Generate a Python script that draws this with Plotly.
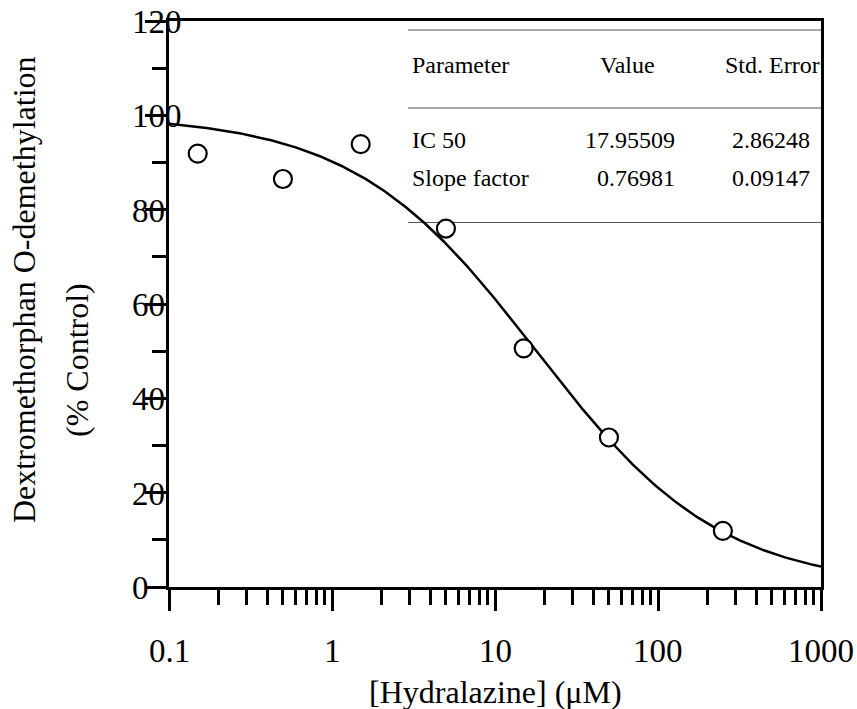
import numpy as np
import plotly.graph_objects as go

# Measured inhibition of dextromethorphan O-demethylation
hydralazine_uM = [0.15, 0.5, 1.5, 5, 15, 50, 250]
activity_pct = [91.9, 86.5, 93.9, 76.0, 50.6, 31.7, 11.9]

# Fitted parameters (shown in the inset table)
ic50 = 17.95509
ic50_se = 2.86248
slope = 0.76981
slope_se = 0.09147

x_tick_vals = [0.1, 1, 10, 100, 1000]
x_tick_text = ["0.1", "1", "10", "100", "1000"]
y_tick_vals = [0, 20, 40, 60, 80, 100, 120]
y_tick_text = ["0", "20", "40", "60", "80", "100", "120"]
y_minor_vals = [10, 30, 50, 70, 90, 110]
x_minor_vals = [k * 10.0 ** e for e in range(-1, 3) for k in range(2, 10)]

FONT = "Liberation Serif"
W, H = 857, 709
L, R, T, B = 169, 36, 21, 122
PW, PH = W - L - R, H - T - B


def px_x(px):
    return (px - L) / PW


def px_y(py):
    return (H - B - py) / PH


# Fitted inhibition curve from the reported IC50 and slope factor
x_fit = np.logspace(-1, 3, 400)
y_fit = 100.0 / (1.0 + (x_fit / ic50) ** slope)

fig = go.Figure()
fig.add_trace(go.Scatter(
    x=x_fit, y=y_fit, mode="lines",
    line=dict(color="black", width=2.5), hoverinfo="skip",
))
fig.add_trace(go.Scatter(
    x=hydralazine_uM, y=activity_pct, mode="markers",
    marker=dict(symbol="circle", size=18, color="white",
                line=dict(color="black", width=2.2)),
))

axis_common = dict(
    showline=True, linecolor="black", linewidth=3, mirror=True,
    ticks="outside", tickcolor="black", tickwidth=2.5, ticklen=21,
    showticklabels=False, showgrid=False, zeroline=False,
)
fig.update_xaxes(
    type="log", range=[-1, 3], tickmode="array", tickvals=x_tick_vals,
    minor=dict(tickmode="array", tickvals=x_minor_vals, ticks="outside",
               ticklen=15, tickwidth=2.5, tickcolor="black", showgrid=False),
    **axis_common,
)
fig.update_yaxes(
    range=[0, 120], tickmode="array", tickvals=y_tick_vals,
    minor=dict(tickmode="array", tickvals=y_minor_vals, ticks="outside",
               ticklen=14, tickwidth=2.5, tickcolor="black", showgrid=False),
    **axis_common,
)

ann = []
# Tick labels
for v, t in zip(y_tick_vals, y_tick_text):
    ann.append(dict(x=0, xref="paper", y=v, yref="y", text=t, showarrow=False,
                    xanchor="left", yanchor="middle", xshift=-39, yshift=-1,
                    font=dict(family=FONT, size=33, color="black")))
for v, t in zip(x_tick_vals, x_tick_text):
    ann.append(dict(x=np.log10(v), xref="x", y=0, yref="paper", text=t,
                    showarrow=False, xanchor="center", yanchor="middle",
                    yshift=-64, font=dict(family=FONT, size=33, color="black")))

# Axis titles
ann.append(dict(x=0.5, xref="paper", y=0, yref="paper",
                text="[Hydralazine] (\u03bcM)", showarrow=False,
                xanchor="center", yanchor="middle", yshift=-105,
                font=dict(family=FONT, size=32, color="black")))
ann.append(dict(x=0, xref="paper", y=px_y(290), yref="paper",
                text="Dextromethorphan O-demethylation", textangle=-90,
                showarrow=False, xanchor="center", yanchor="middle",
                xshift=-145, font=dict(family=FONT, size=32, color="black")))
ann.append(dict(x=0, xref="paper", y=px_y(360), yref="paper",
                text="(% Control)", textangle=-90,
                showarrow=False, xanchor="center", yanchor="middle",
                xshift=-92, font=dict(family=FONT, size=32, color="black")))

# Inset parameter table
tfont = dict(family=FONT, size=24, color="black")
rows = [
    ("Parameter", "Value", "Std. Error", 65),
    ("IC 50", f"{ic50:.5f}", f"{ic50_se:.5f}", 140),
    ("Slope factor", f"{slope:.5f}", f"{slope_se:.5f}", 178),
]
for i, (name, val, se, ypx) in enumerate(rows):
    ann.append(dict(x=px_x(410), y=px_y(ypx), xref="paper", yref="paper",
                    text=name, showarrow=False, xanchor="left",
                    yanchor="middle", font=tfont))
    if i == 0:
        ann.append(dict(x=px_x(627), y=px_y(ypx), xref="paper", yref="paper",
                        text=val, showarrow=False, xanchor="center",
                        yanchor="middle", font=tfont))
        ann.append(dict(x=px_x(723), y=px_y(ypx), xref="paper", yref="paper",
                        text=se, showarrow=False, xanchor="left",
                        yanchor="middle", font=tfont))
    else:
        ann.append(dict(x=px_x(677), y=px_y(ypx), xref="paper", yref="paper",
                        text=val, showarrow=False, xanchor="right",
                        yanchor="middle", font=tfont))
        ann.append(dict(x=px_x(812), y=px_y(ypx), xref="paper", yref="paper",
                        text=se, showarrow=False, xanchor="right",
                        yanchor="middle", font=tfont))

shapes = []
for ypx in (30, 108, 222.5):
    shapes.append(dict(type="line", xref="paper", yref="paper",
                       x0=px_x(408), x1=1, y0=px_y(ypx), y1=px_y(ypx),
                       line=dict(color="#555555", width=1.2), layer="below"))

fig.update_layout(
    width=W, height=H,
    margin=dict(l=L, r=R, t=T, b=B),
    paper_bgcolor="white", plot_bgcolor="white",
    showlegend=False,
    annotations=ann, shapes=shapes,
)

fig.write_html("out.html")
